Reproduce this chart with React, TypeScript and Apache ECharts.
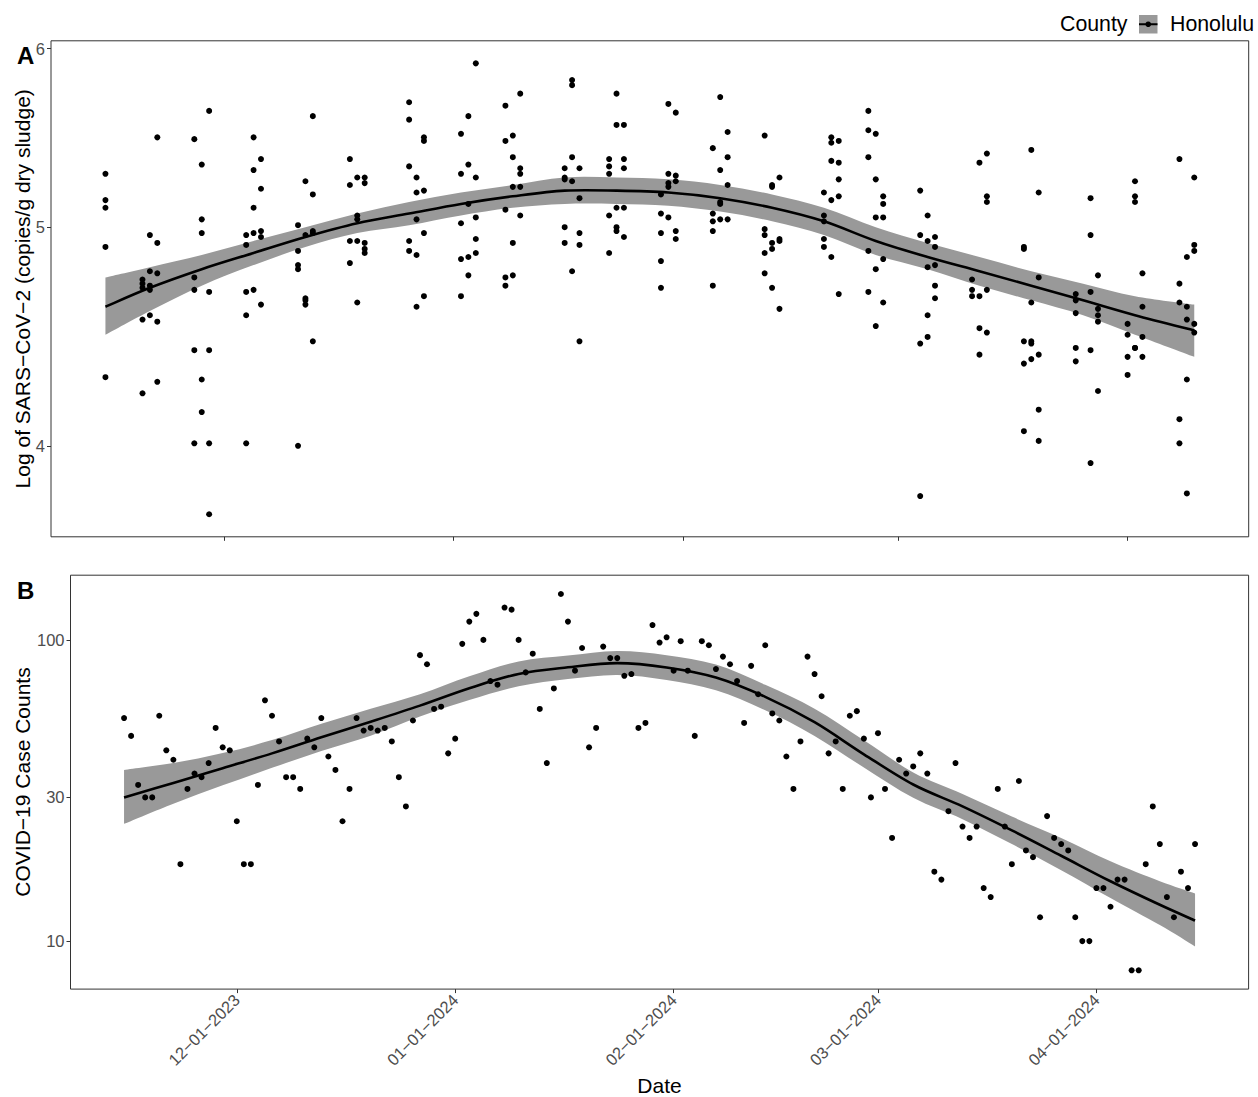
import * as echarts from 'echarts';
import { useEffect, useRef } from 'react';

const FONT = '"Liberation Sans", Arial, Helvetica, sans-serif';
const DAY = 86400000;
const toTime = (d: string) => Date.parse(d + 'T00:00:00Z');

// wastewater samples (Honolulu): one row of replicate values per sampling date
const wwDates = [
  '2023-11-15', '2023-11-20', '2023-11-21', '2023-11-22', '2023-11-27', '2023-11-28', '2023-11-29',
  '2023-12-04', '2023-12-05', '2023-12-06', '2023-12-11', '2023-12-12', '2023-12-13', '2023-12-18',
  '2023-12-19', '2023-12-20', '2023-12-26', '2023-12-27', '2023-12-28', '2024-01-02', '2024-01-03',
  '2024-01-04', '2024-01-08', '2024-01-09', '2024-01-10', '2024-01-16', '2024-01-17', '2024-01-18',
  '2024-01-22', '2024-01-23', '2024-01-24', '2024-01-29', '2024-01-30', '2024-01-31', '2024-02-05',
  '2024-02-06', '2024-02-07', '2024-02-12', '2024-02-13', '2024-02-14', '2024-02-20', '2024-02-21',
  '2024-02-22', '2024-02-26', '2024-02-27', '2024-02-28', '2024-03-04', '2024-03-05', '2024-03-06',
  '2024-03-11', '2024-03-12', '2024-03-13', '2024-03-18', '2024-03-19', '2024-03-20', '2024-03-25',
  '2024-03-27', '2024-03-28', '2024-04-01', '2024-04-02', '2024-04-03', '2024-04-08', '2024-04-09',
  '2024-04-10'
];
const wwValues = [
  [5.28, 5.14, 5.10, 4.90, 4.29], [4.74, 4.72, 4.70, 4.55, 4.22], [4.96, 4.78, 4.71, 4.69, 4.57],
  [5.48, 4.92, 4.77, 4.54, 4.27], [5.47, 4.75, 4.69, 4.41, 4.01], [5.33, 5.04, 4.97, 4.28, 4.14],
  [5.63, 4.68, 4.41, 4.01, 3.73], [4.96, 4.91, 4.68, 4.57, 4.01], [5.48, 5.30, 5.10, 4.97, 4.69],
  [5.36, 5.20, 4.98, 4.95, 4.62], [5.01, 4.88, 4.81, 4.79, 4.00], [5.24, 4.96, 4.65, 4.64, 4.62],
  [5.60, 5.17, 4.98, 4.97, 4.45], [5.36, 5.22, 4.93, 4.82], [5.26, 5.06, 5.04, 4.93, 4.63],
  [5.26, 5.23, 4.92, 4.89, 4.87], [5.68, 5.58, 5.32, 4.93, 4.88], [5.26, 5.18, 5.04, 4.86, 4.61],
  [5.48, 5.46, 5.19, 4.97, 4.66], [5.50, 5.28, 5.02, 4.84, 4.66], [5.60, 5.33, 5.12, 4.85, 4.76],
  [5.91, 5.26, 5.05, 4.94, 4.87], [5.66, 5.46, 5.09, 4.75, 4.71], [5.49, 5.37, 5.21, 4.92, 4.76],
  [5.73, 5.31, 5.28, 5.21, 5.06], [5.31, 5.26, 5.25, 5.00, 4.92], [5.81, 5.78, 5.37, 5.24, 4.78],
  [5.31, 5.15, 4.97, 4.91, 4.45], [5.36, 5.32, 5.28, 5.06, 4.87], [5.73, 5.55, 5.10, 5.00, 4.98],
  [5.55, 5.36, 5.31, 5.10, 4.95], [5.17, 5.07, 4.97, 4.83, 4.70], [5.67, 5.28, 5.23, 5.21, 5.05],
  [5.62, 5.27, 5.24, 4.98, 4.94], [5.42, 5.07, 5.03, 4.98, 4.71], [5.71, 5.30, 5.13, 5.12, 5.04],
  [5.51, 5.37, 5.22, 5.04], [5.49, 4.99, 4.96, 4.87, 4.77], [5.22, 5.21, 4.92, 4.89, 4.70],
  [5.26, 4.94, 4.93, 4.60], [5.18, 5.06, 5.03, 4.94, 4.90], [5.48, 5.45, 5.35, 5.14, 4.85],
  [5.46, 5.34, 5.25, 5.16, 4.67], [5.63, 5.52, 5.37, 4.88, 4.68], [5.50, 5.25, 5.05, 4.79, 4.52],
  [5.16, 5.12, 5.05, 4.84, 4.63], [5.19, 4.96, 4.44, 3.80], [5.06, 4.93, 4.80, 4.57, 4.47],
  [4.95, 4.90, 4.81, 4.71, 4.65], [4.74, 4.69, 4.66], [5.34, 4.66, 4.51, 4.39],
  [5.39, 5.16, 5.13, 4.69, 4.49], [4.90, 4.89, 4.45, 4.35, 4.06], [5.41, 4.63, 4.45, 4.44, 4.37],
  [5.18, 4.75, 4.39, 4.15, 4.02], [4.67, 4.64, 4.58, 4.42, 4.36], [5.15, 4.96, 4.68, 4.41, 3.93],
  [4.76, 4.60, 4.57, 4.54, 4.23], [4.53, 4.48, 4.38, 4.30], [5.24, 5.16, 5.13, 4.42, 4.42],
  [4.77, 4.61, 4.47, 4.38], [5.36, 4.72, 4.63, 4.11, 4.01], [4.85, 4.61, 4.55, 4.28, 3.81],
  [5.26, 4.91, 4.88, 4.53, 4.49]
];

// loess fit of the wastewater series, read weekly
const wwFitDates = [
  '2023-11-15', '2023-11-21', '2023-11-28', '2023-12-05', '2023-12-12', '2023-12-19', '2023-12-26',
  '2024-01-02', '2024-01-09', '2024-01-16', '2024-01-23', '2024-01-30', '2024-02-06', '2024-02-13',
  '2024-02-20', '2024-02-27', '2024-03-05', '2024-03-12', '2024-03-19', '2024-03-26', '2024-04-02',
  '2024-04-10'
];
const wwFit = [4.61, 4.70, 4.79, 4.87, 4.95, 5.02, 5.07, 5.12, 5.16, 5.19, 5.19, 5.18, 5.15, 5.10, 5.03, 4.93, 4.85, 4.78, 4.71, 4.64, 4.57, 4.50];
const wwLower = [4.48, 4.59, 4.71, 4.81, 4.90, 4.97, 5.01, 5.06, 5.10, 5.12, 5.12, 5.11, 5.08, 5.03, 4.96, 4.86, 4.79, 4.71, 4.64, 4.57, 4.48, 4.38];
const wwUpper = [4.75, 4.80, 4.86, 4.93, 5.00, 5.07, 5.13, 5.18, 5.22, 5.26, 5.26, 5.25, 5.22, 5.17, 5.10, 5.00, 4.92, 4.85, 4.78, 4.72, 4.66, 4.62];

// daily COVID-19 case counts, one per day from caseStart
const caseStart = '2023-11-15';
const caseCounts = [
  55, 48, 33, 30, 30, 56, 43, 40, 18, 32, 36, 35, 39, 51, 44, 43, 25, 18, 18, 33,
  63, 56, 46, 35, 35, 32, 47, 44, 55, 41, 37, 25, 32, 55, 50, 51, 50, 51, 46, 35,
  28, 54, 89, 83, 59, 60, 42, 47, 97, 115, 122, 100, 73, 71, 128, 126, 100, 78, 90, 59,
  39, 69, 142, 115, 79, 94, 44, 51, 95, 87, 87, 76, 77, 51, 53, 112, 98, 102, 79, 99,
  79, 48, 99, 96, 80, 88, 83, 73, 53, 82, 66, 96, 57, 54, 41, 32, 46, 88, 77, 65,
  42, 46, 32, 56, 58, 47, 30, 49, 32, 22, 40, 36, 38, 42, 36, 17, 16, 27, 39, 24,
  22, 24, 15, 14, 32, 24, 18, 34, 20, 19, 12, 26, 22, 21, 20, 12, 10, 10, 15, 15,
  13, 16, 16, 8, 8, 18, 28, 21, 14, 12, 17, 15, 21
];

// loess fit of the case counts, read weekly
const caseFitDates = [
  '2023-11-15', '2023-11-22', '2023-11-29', '2023-12-06', '2023-12-13', '2023-12-20', '2023-12-27',
  '2024-01-03', '2024-01-10', '2024-01-17', '2024-01-24', '2024-01-31', '2024-02-07', '2024-02-14',
  '2024-02-21', '2024-02-28', '2024-03-06', '2024-03-13', '2024-03-20', '2024-03-27', '2024-04-03',
  '2024-04-10', '2024-04-15'
];
const caseFit = [30.0, 33.5, 37.5, 42.0, 47.5, 53.5, 60.5, 69.1, 77.1, 81.1, 83.7, 81.0, 75.0, 64.7, 53.3, 41.7, 33.1, 28.0, 23.3, 19.2, 15.8, 13.2, 11.7];
const caseLower = [24.5, 28.6, 32.9, 37.6, 42.8, 48.1, 55.7, 63.1, 70.1, 74.1, 76.5, 73.6, 68.0, 58.4, 48.0, 37.7, 29.9, 25.4, 21.0, 17.2, 13.9, 11.3, 9.6];
const caseUpper = [37.0, 39.0, 42.1, 46.5, 52.7, 59.1, 66.0, 75.7, 84.8, 88.7, 91.9, 89.0, 82.8, 70.9, 59.1, 46.4, 36.3, 30.8, 25.9, 22.0, 18.4, 15.8, 14.4];

const monthTicks = ['2023-12-01', '2024-01-01', '2024-02-01', '2024-03-01', '2024-04-01'];
const wwTicks = [4, 5, 6];
const caseTicks = [10, 30, 100];

// Catmull-Rom curve through screen points, used for the fit line and the ribbon edges
const traceCurve = (ctx: any, pts: number[][], move: boolean) => {
  const n = pts.length;
  if (move) ctx.moveTo(pts[0][0], pts[0][1]);
  else ctx.lineTo(pts[0][0], pts[0][1]);
  for (let i = 0; i < n - 1; i++) {
    const p0 = pts[Math.max(i - 1, 0)];
    const p1 = pts[i];
    const p2 = pts[i + 1];
    const p3 = pts[Math.min(i + 2, n - 1)];
    ctx.bezierCurveTo(
      p1[0] + (p2[0] - p0[0]) / 6, p1[1] + (p2[1] - p0[1]) / 6,
      p2[0] - (p3[0] - p1[0]) / 6, p2[1] - (p3[1] - p1[1]) / 6,
      p2[0], p2[1]
    );
  }
};

echarts.graphic.registerShape('smoothRibbon', echarts.graphic.extendShape({
  shape: { top: [], bottom: [] },
  buildPath(ctx: any, shape: any) {
    traceCurve(ctx, shape.top, true);
    traceCurve(ctx, shape.bottom, false);
    ctx.closePath();
  }
} as any));

echarts.graphic.registerShape('smoothCurve', echarts.graphic.extendShape({
  shape: { points: [] },
  buildPath(ctx: any, shape: any) {
    traceCurve(ctx, shape.points, true);
  }
} as any));

// ggplot-like 5% expansion of the data range
const expand = (lo: number, hi: number) => {
  const r = hi - lo;
  return [lo - r * 0.05, hi + r * 0.05];
};
const expandLog = (lo: number, hi: number) => {
  const [a, b] = expand(Math.log10(lo), Math.log10(hi));
  return [Math.pow(10, a), Math.pow(10, b)];
};

const fmtDate = (v: number) => {
  const d = new Date(v);
  const p = (n: number) => String(n).padStart(2, '0');
  return `${p(d.getUTCMonth() + 1)}\u2212${p(d.getUTCDate())}\u2212${d.getUTCFullYear()}`;
};

const ribbonSeries = (idx: number, dates: string[], lower: number[], upper: number[]) => {
  const times = dates.map(toTime);
  return {
    type: 'custom',
    xAxisIndex: idx,
    yAxisIndex: idx,
    silent: true,
    z: 1,
    data: times.map((t, i) => [t, lower[i], upper[i]]),
    encode: { x: 0, y: [1, 2] },
    renderItem: (params: any, api: any) => {
      if (params.dataIndex !== 0) return null;
      const top = times.map((t, i) => api.coord([t, upper[i]]));
      const bottom = times.map((t, i) => api.coord([t, lower[i]])).reverse();
      return { type: 'smoothRibbon', shape: { top, bottom }, style: { fill: '#999999' } };
    }
  };
};

const fitSeries = (idx: number, dates: string[], fit: number[]) => {
  const times = dates.map(toTime);
  return {
    type: 'custom',
    xAxisIndex: idx,
    yAxisIndex: idx,
    silent: true,
    z: 3,
    data: times.map((t, i) => [t, fit[i]]),
    encode: { x: 0, y: 1 },
    renderItem: (params: any, api: any) => {
      if (params.dataIndex !== 0) return null;
      const points = times.map((t, i) => api.coord([t, fit[i]]));
      return {
        type: 'smoothCurve',
        shape: { points },
        style: { fill: 'none', stroke: '#000', lineWidth: 2.6, lineJoin: 'round', lineCap: 'butt' }
      };
    }
  };
};

const text = (x: number, y: number, t: string, size: number, extra: any = {}) => ({
  type: 'text',
  x,
  y,
  silent: true,
  rotation: extra.rotation || 0,
  style: {
    text: t,
    fill: '#000',
    font: `${extra.bold ? 'bold ' : ''}${size}px ${FONT}`,
    align: extra.align || 'left',
    textAlign: extra.align || 'left',
    verticalAlign: 'middle',
    textVerticalAlign: 'middle'
  }
});

const App: React.FC = () => {
  const chartRef = useRef<HTMLDivElement | null>(null);

  useEffect(() => {
    if (!chartRef.current) return;
    const chart = echarts.init(chartRef.current, null, { renderer: 'svg' });

    const wwPoints: number[][] = [];
    wwDates.forEach((d, i) => wwValues[i].forEach((v) => wwPoints.push([toTime(d), v])));
    const casePoints = caseCounts.map((v, i) => [toTime(caseStart) + i * DAY, v]);

    const wwAll = wwValues.flat();
    const [xAmin, xAmax] = expand(toTime(wwDates[0]), toTime(wwDates[wwDates.length - 1]));
    const [yAmin, yAmax] = expandLog(Math.min(...wwAll), Math.max(...wwAll));
    const [xBmin, xBmax] = expand(casePoints[0][0], casePoints[casePoints.length - 1][0]);
    const [yBmin, yBmax] = expandLog(Math.min(...caseCounts), Math.max(...caseCounts));

    const tickTimes = monthTicks.map(toTime);
    const tickStyle = { show: true, length: 4, lineStyle: { color: '#333333', width: 1 } };
    const labelStyle = { color: '#4d4d4d', fontSize: 16.5, fontFamily: FONT };

    const option: any = {
      animation: false,
      backgroundColor: '#ffffff',
      grid: [
        { left: 51, top: 40.8, width: 1197.7, height: 496, show: true, borderColor: '#333333', borderWidth: 1 },
        { left: 70.5, top: 575.2, width: 1178.1, height: 413.9, show: true, borderColor: '#333333', borderWidth: 1 }
      ],
      xAxis: [
        {
          type: 'value', gridIndex: 0, min: xAmin, max: xAmax,
          axisLine: { show: false }, splitLine: { show: false },
          axisTick: { ...tickStyle, customValues: tickTimes },
          axisLabel: { show: false }
        },
        {
          type: 'value', gridIndex: 1, min: xBmin, max: xBmax,
          axisLine: { show: false }, splitLine: { show: false },
          axisTick: { ...tickStyle, customValues: tickTimes },
          axisLabel: { ...labelStyle, customValues: tickTimes, rotate: 45, margin: 8, formatter: fmtDate }
        }
      ],
      yAxis: [
        {
          type: 'log', gridIndex: 0, min: yAmin, max: yAmax,
          axisLine: { show: false }, splitLine: { show: false }, minorTick: { show: false },
          axisTick: { ...tickStyle, customValues: wwTicks },
          axisLabel: { ...labelStyle, customValues: wwTicks, margin: 6, formatter: (v: number) => String(Math.round(v)) }
        },
        {
          type: 'log', gridIndex: 1, min: yBmin, max: yBmax,
          axisLine: { show: false }, splitLine: { show: false }, minorTick: { show: false },
          axisTick: { ...tickStyle, customValues: caseTicks },
          axisLabel: { ...labelStyle, customValues: caseTicks, margin: 6, formatter: (v: number) => String(Math.round(v)) }
        }
      ],
      series: [
        ribbonSeries(0, wwFitDates, wwLower, wwUpper),
        {
          type: 'scatter', xAxisIndex: 0, yAxisIndex: 0, data: wwPoints,
          symbolSize: 6, itemStyle: { color: '#000', opacity: 1 }, silent: true, z: 2
        },
        fitSeries(0, wwFitDates, wwFit),
        ribbonSeries(1, caseFitDates, caseLower, caseUpper),
        {
          type: 'scatter', xAxisIndex: 1, yAxisIndex: 1, data: casePoints,
          symbolSize: 6, itemStyle: { color: '#000', opacity: 1 }, silent: true, z: 2
        },
        fitSeries(1, caseFitDates, caseFit)
      ],
      graphic: [
        text(17, 55, 'A', 24, { bold: true }),
        text(17, 590, 'B', 24, { bold: true }),
        text(659.5, 1085, 'Date', 21),
        text(22, 288.8, 'Log of SARS\u2212CoV\u22122 (copies/g dry sludge)', 21, { align: 'center', rotation: Math.PI / 2 }),
        text(22, 782, 'COVID\u221219 Case Counts', 21, { align: 'center', rotation: Math.PI / 2 }),
        text(1060, 24, 'County', 21.3),
        { type: 'rect', silent: true, shape: { x: 1139, y: 15, width: 18.5, height: 18.5 }, style: { fill: '#999999' } },
        { type: 'line', silent: true, shape: { x1: 1139, y1: 24.25, x2: 1157.5, y2: 24.25 }, style: { stroke: '#000', lineWidth: 2 } },
        { type: 'circle', silent: true, shape: { cx: 1148.25, cy: 24.25, r: 2.8 }, style: { fill: '#000' } },
        text(1170, 24, 'Honolulu', 21.3)
      ]
    };
    // centre the x title
    option.graphic[2] = text(659.5, 1085, 'Date', 21, { align: 'center' });

    chart.setOption(option);

    return () => {
      chart.dispose();
    };
  }, []);

  return <div ref={chartRef} style={{ position: 'fixed', left: 0, top: 0, width: 1258, height: 1097 }} />;
};

export default App;
